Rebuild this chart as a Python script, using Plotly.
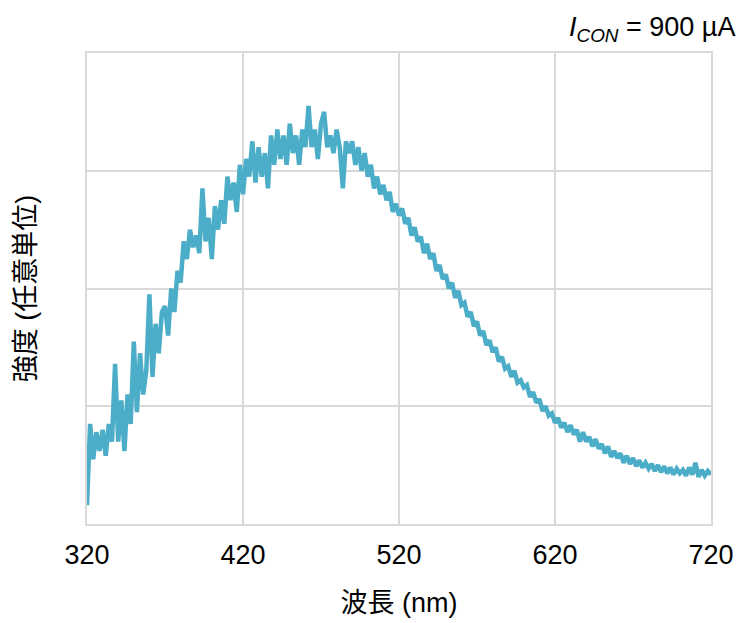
import numpy as np
import plotly.graph_objects as go

wavelength = list(range(320, 722, 2))
intensity = [
    0.16, 0.85, 0.55, 0.78, 0.62, 0.80, 0.58, 0.85, 0.70, 1.36,
    0.70, 1.05, 0.62, 1.10, 0.85, 1.55, 0.95, 1.45, 1.10, 1.30,
    1.95, 1.25, 1.70, 1.45, 1.80, 1.85, 1.60, 2.00, 1.80, 2.15,
    2.05, 2.40, 2.25, 2.50, 2.35, 2.45, 2.30, 2.85, 2.40, 2.60,
    2.25, 2.70, 2.50, 2.75, 2.55, 2.95, 2.75, 2.90, 2.65, 3.05,
    2.80, 3.10, 2.95, 3.25, 2.90, 3.20, 2.95, 3.15, 2.85, 3.30,
    3.05, 3.35, 3.10, 3.30, 3.05, 3.40, 3.15, 3.30, 3.05, 3.35,
    3.20, 3.55, 3.20, 3.35, 3.10, 3.40, 3.50, 3.20, 3.30, 3.15,
    3.35, 3.20, 2.85, 3.25, 3.15, 3.25, 3.05, 3.20, 3.00, 3.15,
    2.95, 3.05, 2.85, 2.95, 2.80, 2.88, 2.75, 2.82, 2.65, 2.72,
    2.62, 2.68, 2.55, 2.60, 2.45, 2.52, 2.40, 2.44, 2.30, 2.38,
    2.25, 2.30, 2.15, 2.20, 2.08, 2.12, 2.00, 2.05, 1.92, 1.98,
    1.86, 1.88, 1.76, 1.80, 1.68, 1.72, 1.60, 1.64, 1.52, 1.56,
    1.46, 1.50, 1.38, 1.42, 1.32, 1.34, 1.25, 1.30, 1.20, 1.22,
    1.16, 1.18, 1.08, 1.12, 1.03, 1.06, 0.96, 1.00, 0.92, 0.94,
    0.86, 0.90, 0.82, 0.86, 0.78, 0.84, 0.76, 0.80, 0.70, 0.78,
    0.70, 0.74, 0.66, 0.72, 0.64, 0.68, 0.60, 0.66, 0.57, 0.62,
    0.56, 0.60, 0.52, 0.58, 0.51, 0.56, 0.49, 0.54, 0.48, 0.52,
    0.47, 0.51, 0.45, 0.50, 0.44, 0.49, 0.43, 0.48, 0.42, 0.47,
    0.43, 0.46, 0.41, 0.48, 0.42, 0.52, 0.40, 0.46, 0.41, 0.45,
    0.42,
]
x_ticks = [320, 420, 520, 620, 720]

FONT = "Liberation Sans, Arial, Noto Sans CJK JP, sans-serif"
GRID = "#d9d9d9"

fig = go.Figure()
fig.add_trace(go.Scatter(
    x=wavelength, y=intensity, mode="lines",
    line=dict(color="#4badc7", width=4.5),
    showlegend=False,
))

fig.update_layout(
    width=742, height=623,
    margin=dict(l=87, r=31, t=53, b=99),
    paper_bgcolor="white", plot_bgcolor="white",
    font=dict(family=FONT, size=28, color="black"),
    xaxis=dict(
        range=[320, 720], tickvals=x_ticks, ticktext=[str(t) for t in x_ticks],
        automargin=False,
        showgrid=True, gridcolor=GRID, gridwidth=1.5,
        showline=True, linecolor=GRID, linewidth=1.5, mirror=True,
        zeroline=False, ticks="outside", ticklen=6, tickcolor="rgba(0,0,0,0)",
        tickfont=dict(size=27),
        title=dict(text="波長 (nm)", font=dict(size=27), standoff=24),
    ),
    yaxis=dict(
        range=[0, 4], dtick=1, showticklabels=False, automargin=False,
        showgrid=True, gridcolor=GRID, gridwidth=1.5,
        showline=True, linecolor=GRID, linewidth=1.5, mirror=True,
        zeroline=False,
        title=dict(text="強度 (任意単位)", font=dict(size=27), standoff=42),
    ),
    annotations=[dict(
        text="<i>I</i><sub><i>CON</i></sub> = 900 µA",
        xref="paper", yref="paper", x=1.042, y=1.052,
        xanchor="right", yanchor="middle", showarrow=False,
        font=dict(size=27),
    )],
)

fig.write_html("out.html")
